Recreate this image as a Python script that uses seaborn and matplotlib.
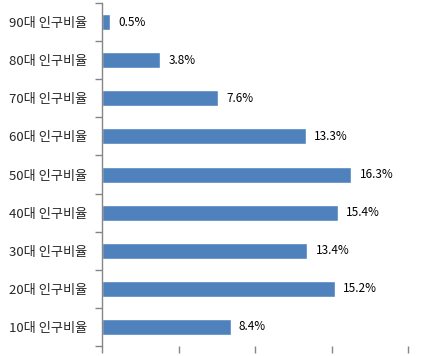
import matplotlib
matplotlib.use("Agg")
import matplotlib.pyplot as plt
import seaborn as sns
import pandas as pd
from matplotlib.ticker import FixedLocator

categories = ["90대 인구비율", "80대 인구비율", "70대 인구비율", "60대 인구비율", "50대 인구비율",
              "40대 인구비율", "30대 인구비율", "20대 인구비율", "10대 인구비율"]
values = [0.5, 3.8, 7.6, 13.3, 16.3, 15.4, 13.4, 15.2, 8.4]
x_ticks = [0, 5, 10, 15, 20]

sns.set_style("white")
plt.rcParams['font.family'] = ['Noto Sans CJK KR', 'DejaVu Sans']

df = pd.DataFrame({"연령": categories, "비율": values})

fig = plt.figure(figsize=(4.38, 3.56), dpi=100)
ax = fig.add_axes([0.233, 0.028, 0.6985, 0.9636])
sns.barplot(data=df, x="비율", y="연령", order=categories, color="#4F81BD",
            saturation=1, width=0.42, ax=ax)

for i, v in enumerate(values):
    ax.text(v + 0.55, i, f"{v}%", va="center", ha="left", fontsize=8.5, color="black")

ax.set_xlim(0, 20)
ax.set_ylim(len(categories) - 0.5, -0.5)
ax.set_xticks(x_ticks)
ax.set_xticklabels([])
ax.set_xlabel("")
ax.set_ylabel("")
ax.yaxis.set_minor_locator(FixedLocator([i - 0.5 for i in range(len(categories) + 1)]))
ax.tick_params(axis="y", which="major", length=0, labelsize=9.5, pad=10.5)
ax.tick_params(axis="y", which="minor", length=5, width=1, color="#868686", direction="out", left=True)
ax.tick_params(axis="x", which="major", length=5, width=1, color="#868686", direction="out", bottom=True)

for s in ["top", "right", "bottom"]:
    ax.spines[s].set_visible(False)
ax.spines["left"].set_color("#868686")
ax.spines["left"].set_linewidth(1)

plt.savefig("out.png", dpi=100)
plt.close()
